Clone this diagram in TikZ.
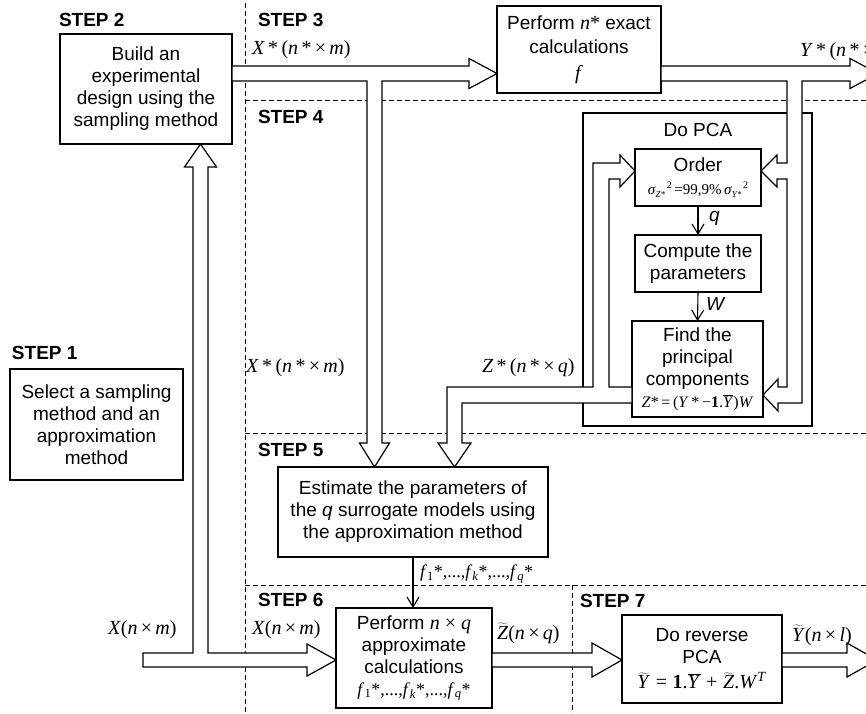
\documentclass[tikz,border=0pt]{standalone}
\usepackage{fontspec}
\setmainfont{Liberation Sans}
\newfontfamily\tms{Liberation Serif}
\usetikzlibrary{arrows.meta}

% italic serif symbol for formulas
\newcommand\vi[1]{\textit{#1}}
\newcommand\ybar{$\overline{\mbox{\vi{Y}}}$}

\begin{document}
\begin{tikzpicture}[x=1pt,y=-1pt,
  every node/.style={inner sep=0pt, outer sep=0pt},
  txt/.style={font=\fontsize{19}{22}\selectfont},
  stepname/.style={font=\bfseries\fontsize{19}{22}\selectfont, anchor=west},
  box/.style={draw, line width=1.2pt, fill=white, align=center, font=\fontsize{19}{22}\selectfont},
  mlab/.style={font=\tms\fontsize{20}{22}\selectfont, anchor=west},
  bigarrow/.style={draw, line width=1.2pt, fill=white, line join=miter},
  sepline/.style={dash pattern=on 5pt off 3pt, line width=0.9pt},
  flow/.style={line width=1.1pt, -{Straight Barb[length=10pt,width=12pt]}}
]
\useasboundingbox (0,0) rectangle (866,713);
\clip (0,0) rectangle (866,713);

% step separators
\draw[sepline] (245,3) -- (245,713);
\draw[sepline] (245,100) -- (866,100);
\draw[sepline] (245,433) -- (866,433);
\draw[sepline] (245,585) -- (866,585);
\draw[sepline] (572,585) -- (572,713);

% step titles
\node[stepname] (t2) at (59,20) {STEP 2};
\node[stepname] (t3) at (258,20) {STEP 3};
\node[stepname] (t4) at (258,117) {STEP 4};
\node[stepname] (t1) at (12,353) {STEP 1};
\node[stepname] (t5) at (258,450) {STEP 5};
\node[stepname] (t6) at (258,600) {STEP 6};
\node[stepname] (t7) at (580,601) {STEP 7};

% PCA frame
\node[draw, line width=1.2pt, minimum width=229pt, minimum height=313pt] (pca) at (697.5,269.5) {};
\node[txt] (pcat) at (698,130) {Do PCA};

% process boxes
\node[box, minimum width=173pt, minimum height=111pt] (s1) at (96.5,424.5)
  {Select a sampling\\method and an\\approximation\\method};
\node[box, minimum width=172pt, minimum height=110pt] (s2) at (146,89)
  {Build an\\experimental\\design using the\\sampling method};
\node[box, minimum width=164pt, minimum height=87pt] (s3) at (579,49.5)
  {Perform {\tms\fontsize{20}{22}\selectfont\vi{n}*} exact\\[2pt]calculations\\[4pt]{\tms\fontsize{20}{22}\selectfont\vi{f}}};
\node[box, minimum width=126pt, minimum height=57pt] (order) at (698,177.5)
  {Order\\[1pt]{\tms\fontsize{15}{15}\selectfont\vi{σ}\raisebox{-3pt}{\fontsize{9}{9}\selectfont\vi{Z*}}\raisebox{6pt}{\fontsize{10}{10}\selectfont\,2}\,=99,9\%\,\vi{σ}\raisebox{-3pt}{\fontsize{9}{9}\selectfont\vi{Y*}}\raisebox{6pt}{\fontsize{10}{10}\selectfont\,2}}};
\node[box, minimum width=126pt, minimum height=57pt] (comp) at (698,263.5)
  {Compute the\\parameters};
\node[box, minimum width=131pt, minimum height=96pt] (find) at (697.5,369)
  {Find the\\principal\\components\\{\tms\fontsize{16}{16}\selectfont\vi{Z}*\,=\,(\vi{Y}\,*\,−\textbf{1}.\ybar)\vi{W}}};
\node[box, minimum width=270pt, minimum height=90pt] (s5) at (413,512)
  {Estimate the parameters of\\the \textit{q} surrogate models using\\the approximation method};
\node[box, minimum width=156pt, minimum height=100pt] (s6) at (414,658)
  {Perform {\tms\fontsize{20}{22}\selectfont\vi{n} × \vi{q}}\\approximate\\calculations\\{\tms\fontsize{18}{18}\selectfont\vi{f}\textsubscript{1}*,...,\vi{f}\textsubscript{\vi{k}}*,...,\vi{f}\textsubscript{\vi{q}}*}};
\node[box, minimum width=160pt, minimum height=88pt] (s7) at (702,659)
  {Do reverse\\PCA\\[3pt]{\tms\fontsize{20}{22}\selectfont $\widetilde{\mbox{\vi{Y}}}$\;=\;\textbf{1}.\ybar\;+\;$\widetilde{\mbox{\vi{Z}}}$.\vi{W}\textsuperscript{\vi{T}}}};

% free ends of the outgoing arrows
\coordinate (yout) at (878,73.5);
\coordinate (ytout) at (877,660);

% sampled design: to the exact model and to the fitting step
\draw[bigarrow] (s2.east |- 0,66) -- (469,66) -- (469,58.5) -- (s3.west |- 0,73.5)
  -- (469,88.5) -- (469,81) -- (382,81) -- (382,443) -- (389.5,443)
  -- (s5.north -| 374.5,0) -- (359.5,443) -- (367,443) -- (367,81)
  -- (s2.east |- 0,81) -- cycle;

% input data: to the design step and to the surrogate evaluation
\draw[bigarrow] (143,653) -- (193,653) -- (193,167) -- (184.5,167)
  -- (s2.south -| 200.5,0) -- (216.5,167) -- (208,167) -- (208,653)
  -- (307,653) -- (307,644) -- (s6.west |- 0,660) -- (307,676) -- (307,667)
  -- (143,667) -- cycle;

% exact responses: out, and into the PCA
\draw[bigarrow] (s3.east |- 0,66) -- (850,66) -- (850,58.5) -- (yout)
  -- (850,88.5) -- (850,81) -- (802,81) -- (802,403) -- (778,403) -- (778,411)
  -- (find.east |- 0,395) -- (778,379) -- (778,387) -- (787,387) -- (787,179)
  -- (777,179) -- (777,187) -- (order.east |- 0,171) -- (777,155) -- (777,163)
  -- (787,163) -- (787,81) -- (s3.east |- 0,81) -- cycle;

% principal components: back to ordering and on to the fitting step
\draw[bigarrow] (find.west |- 0,387) -- (609,387) -- (609,179) -- (620,179)
  -- (620,187) -- (order.west |- 0,171) -- (620,155) -- (620,163) -- (593,163)
  -- (593,387) -- (447,387) -- (447,443) -- (438,443) -- (s5.north -| 454.5,0)
  -- (471,443) -- (462,443) -- (462,403) -- (find.west |- 0,403) -- cycle;

% approximate components to reverse PCA
\draw[bigarrow] (s6.east |- 0,653) -- (592,653) -- (592,643) -- (s7.west |- 0,660)
  -- (592,677) -- (592,667) -- (s6.east |- 0,667) -- cycle;

% approximate responses out
\draw[bigarrow] (s7.east |- 0,653) -- (847,653) -- (847,643) -- (ytout)
  -- (847,677) -- (847,667) -- (s7.east |- 0,667) -- cycle;

% thin flows
\draw[flow] (s5.south) -- (s5.south |- s6.north);
\draw[flow] (order.south) -- (comp.north);
\draw[flow] (comp.south) -- (find.north);

% flow labels
\node[mlab] (lx1) at (252,50) {\vi{X}\,*\,(\vi{n}\,*\,×\,\vi{m})};
\node[mlab] (lx2) at (246,368) {\vi{X}\,*\,(\vi{n}\,*\,×\,\vi{m})};
\node[mlab] (ly) at (800,52) {\vi{Y}\,*\,(\vi{n}\,*\,×\,\vi{l})};
\node[mlab] (lz) at (482,368) {\vi{Z}\,*\,(\vi{n}\,*\,×\,\vi{q})};
\node[mlab] (lx3) at (108,630) {\vi{X}(\vi{n}\,×\,\vi{m})};
\node[mlab] (lx4) at (252,630) {\vi{X}(\vi{n}\,×\,\vi{m})};
\node[mlab, font=\tms\fontsize{18}{18}\selectfont] (lf) at (420,574)
  {\vi{f}\textsubscript{1}*,...,\vi{f}\textsubscript{\vi{k}}*,...,\vi{f}\textsubscript{\vi{q}}*};
\node[mlab] (lzt) at (497,633) {$\widetilde{\mbox{\vi{Z}}}$(\vi{n}\,×\,\vi{q})};
\node[mlab] (lyt) at (792,635) {$\widetilde{\mbox{\vi{Y}}}$(\vi{n}\,×\,\vi{l})};
\node[txt, anchor=west] (lq) at (709,218) {\textit{q}};
\node[txt, anchor=west] (lw) at (706,304) {\textit{W}};
\end{tikzpicture}
\end{document}
